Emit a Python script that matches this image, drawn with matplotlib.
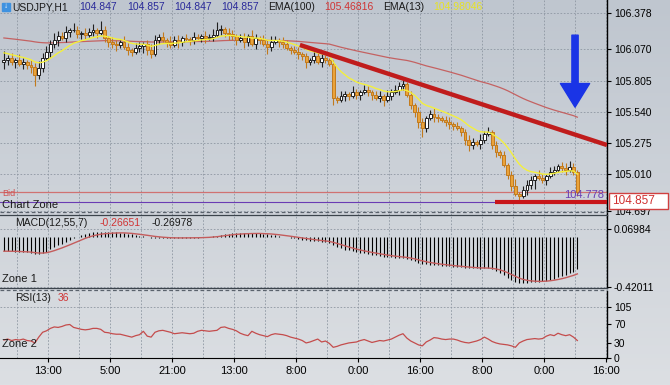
import numpy as np
import matplotlib
matplotlib.use('Agg')
import matplotlib.pyplot as plt
from matplotlib.patches import Rectangle
from matplotlib.lines import Line2D
from matplotlib.colors import LinearSegmentedColormap

plt.rcParams['font.family'] = ['Liberation Sans', 'DejaVu Sans']

# hourly closes, USDJPY H1
first_open = 105.960
close = [
    105.980, 105.996, 105.963, 105.980, 105.946, 105.963, 105.937, 105.920, 105.852, 105.912,
    105.996, 106.047, 106.115, 106.149, 106.183, 106.166, 106.217, 106.234, 106.234, 106.200,
    106.208, 106.191, 106.217, 106.234, 106.208, 106.234, 106.166, 106.132, 106.115, 106.107,
    106.132, 106.090, 106.064, 106.047, 106.081, 106.098, 106.115, 106.064, 106.030, 106.149,
    106.174, 106.149, 106.132, 106.107, 106.149, 106.132, 106.166, 106.158, 106.149, 106.174,
    106.166, 106.183, 106.166, 106.174, 106.191, 106.234, 106.242, 106.208, 106.200, 106.183,
    106.149, 106.166, 106.132, 106.183, 106.115, 106.166, 106.149, 106.115, 106.090, 106.132,
    106.149, 106.132, 106.115, 106.081, 106.064, 106.047, 106.030, 106.013, 105.963, 105.980,
    106.013, 105.963, 105.996, 105.980, 105.946, 105.657, 105.641, 105.674, 105.691, 105.674,
    105.708, 105.683, 105.708, 105.725, 105.708, 105.683, 105.657, 105.674, 105.641, 105.674,
    105.708, 105.725, 105.759, 105.776, 105.683, 105.598, 105.539, 105.454, 105.403, 105.488,
    105.522, 105.496, 105.488, 105.471, 105.454, 105.437, 105.420, 105.403, 105.369, 105.302,
    105.259, 105.285, 105.268, 105.302, 105.352, 105.369, 105.259, 105.200, 105.175, 105.090,
    105.005, 104.912, 104.844, 104.827, 104.878, 104.920, 104.963, 104.997, 104.980, 104.963,
    104.997, 105.031, 105.048, 105.081, 105.064, 105.048, 105.073, 105.031, 104.857,
]
# wick lengths in pips above / below the body
wick_up = [
    8, 3, 4, 2, 5, 3, 2, 4, 3, 6,
    4, 5, 3, 6, 4, 3, 5, 2, 6, 3,
    2, 4, 3, 5, 2, 8, 3, 2, 4, 3,
    2, 5, 3, 2, 4, 3, 2, 3, 5, 4,
    3, 4, 2, 5, 3, 4, 2, 3, 2, 4,
    3, 2, 4, 3, 5, 7, 3, 2, 4, 3,
    2, 3, 4, 2, 5, 3, 2, 4, 3, 5,
    3, 2, 4, 3, 2, 3, 4, 2, 3, 2,
    4, 3, 5, 3, 2, 3, 2, 4, 3, 2,
    5, 3, 2, 4, 3, 2, 3, 4, 2, 5,
    3, 4, 3, 5, 2, 3, 2, 4, 3, 2,
    3, 5, 3, 2, 3, 4, 2, 3, 2, 3,
    4, 3, 2, 5, 3, 4, 2, 3, 2, 3,
    2, 3, 6, 2, 3, 4, 3, 2, 5, 3,
    2, 4, 3, 2, 3, 4, 5, 3, 2,
]
wick_dn = [
    6, 4, 3, 5, 2, 4, 3, 5, 9, 3,
    3, 2, 4, 3, 5, 2, 3, 4, 2, 3,
    4, 3, 2, 3, 4, 2, 3, 4, 3, 5,
    3, 2, 4, 3, 2, 3, 6, 4, 3, 2,
    3, 2, 4, 3, 2, 5, 3, 2, 4, 3,
    2, 3, 4, 2, 3, 2, 4, 3, 5, 3,
    4, 2, 5, 3, 2, 4, 3, 2, 6, 3,
    2, 4, 3, 2, 3, 2, 4, 3, 5, 3,
    3, 2, 4, 3, 2, 6, 3, 2, 4, 3,
    2, 3, 4, 2, 3, 4, 2, 3, 5, 2,
    3, 2, 4, 3, 2, 3, 4, 5, 8, 3,
    2, 4, 3, 2, 3, 4, 3, 2, 3, 4,
    5, 3, 2, 4, 3, 2, 3, 4, 3, 2,
    3, 4, 2, 3, 2, 4, 3, 8, 2, 3,
    4, 2, 3, 2, 3, 4, 2, 3, 3,
]
macd = [
    -0.118, -0.119, -0.118, -0.121, -0.124, -0.127, -0.128, -0.132, -0.144, -0.143,
    -0.135, -0.122, -0.100, -0.084, -0.068, -0.055, -0.040, -0.025, -0.010, 0.005,
    0.020, 0.030, 0.036, 0.040, 0.042, 0.044, 0.042, 0.040, 0.041, 0.040,
    0.039, 0.036, 0.030, 0.025, 0.018, 0.012, 0.008, 0.003, -0.004, -0.006,
    -0.008, -0.009, -0.010, -0.010, -0.008, -0.008, -0.006, -0.005, -0.004, -0.004,
    -0.003, -0.002, 0.000, 0.004, 0.008, 0.014, 0.020, 0.026, 0.030, 0.033,
    0.034, 0.035, 0.034, 0.035, 0.033, 0.034, 0.032, 0.028, 0.024, 0.022,
    0.016, 0.010, 0.005, 0.000, -0.005, -0.010, -0.015, -0.020, -0.026, -0.030,
    -0.032, -0.036, -0.040, -0.044, -0.048, -0.065, -0.080, -0.092, -0.104, -0.112,
    -0.120, -0.126, -0.132, -0.137, -0.142, -0.146, -0.152, -0.158, -0.163, -0.167,
    -0.170, -0.172, -0.174, -0.176, -0.182, -0.192, -0.203, -0.215, -0.226, -0.230,
    -0.232, -0.235, -0.238, -0.241, -0.244, -0.247, -0.250, -0.252, -0.255, -0.258,
    -0.262, -0.263, -0.264, -0.265, -0.262, -0.262, -0.270, -0.283, -0.298, -0.318,
    -0.340, -0.360, -0.378, -0.389, -0.389, -0.386, -0.382, -0.379, -0.377, -0.372,
    -0.366, -0.358, -0.349, -0.339, -0.329, -0.318, -0.304, -0.291, -0.272,
]
rsi = [
    36, 38, 35, 37, 36, 38, 35, 34, 30, 42,
    52, 55, 60, 63, 62, 64, 67, 68, 62, 60,
    58, 57, 58, 60, 60, 58, 52, 51, 49, 48,
    48, 46, 44, 42, 45, 47, 54, 44, 42, 52,
    55, 56, 54, 52, 49, 50, 51, 50, 49, 50,
    54, 56, 55, 54, 55, 56, 62, 63, 60, 58,
    55, 50, 47, 45, 54, 50, 47, 45, 43, 47,
    49, 48, 47, 45, 42, 40, 38, 35, 30, 32,
    35, 38, 32, 34, 29, 21, 23, 26, 28, 30,
    31, 32, 35, 37, 34, 31, 33, 35, 34, 36,
    38, 42, 46, 49, 40, 34, 30, 26, 24, 32,
    36, 41, 40, 38, 37, 38, 38, 36, 33, 31,
    30, 32, 34, 37, 42, 38, 33, 30, 28, 27,
    26, 24, 21, 30, 34, 37, 38, 39, 38, 39,
    44, 47, 45, 50, 47, 45, 47, 42, 35,
]
ema13_seed = 106.05
ema100_seed = 106.17

price_ticks = [106.378, 106.070, 105.805, 105.540, 105.275, 105.010, 104.697]
macd_ticks = [0.06984, -0.42011]
rsi_ticks = [105, 70, 30, 0]
time_labels = ['13:00', '5:00', '21:00', '13:00', '8:00', '0:00', '16:00', '8:00', '0:00', '16:00']

bid = 104.857
low_mark = 104.778
trend_line = [(76.4, 106.107), (155.65, 105.259)]
support_line = [(126.7, 104.775), (155.65, 104.775)]


def ema(values, n, start):
    k = 2.0 / (n + 1)
    out = []
    prev = start
    for v in values:
        prev = prev + k * (v - prev)
        out.append(prev)
    return np.array(out)


W, H = 670, 385
def fx(px):
    return px / W
def fy(py):
    return 1 - py / H

fig = plt.figure(figsize=(6.7, 3.85), dpi=100)

# background gradient
bg = fig.add_axes([0, 0, 1, 1], zorder=-10)
cmap = LinearSegmentedColormap.from_list('bg', ['#bfc6cf', '#dcdfe3'])
bg.imshow(np.linspace(0, 1, 256).reshape(-1, 1), aspect='auto', cmap=cmap, extent=[0, 1, 0, 1])
bg.axis('off')

right = 607
ax = fig.add_axes([0, fy(215), fx(right), 215 / H], facecolor='none')
axm = fig.add_axes([0, fy(288), fx(right), 72 / H], facecolor='none')
axr = fig.add_axes([0, fy(358), fx(right), 67 / H], facecolor='none')

n = len(close)
x = np.arange(n)
closes = np.array(close)
opens = np.concatenate([[first_open], closes[:-1]])
highs = np.maximum(opens, closes) + np.array(wick_up) * 0.01
lows = np.minimum(opens, closes) - np.array(wick_dn) * 0.01
bull = closes >= opens

grid_kw = dict(color='#8e97a2', lw=0.6, ls=(0, (2, 2)))
xmajor = [11.5 + 16 * k for k in range(10)]
xminor = [3.5 + 16 * k for k in range(10)]

for a in (ax, axm, axr):
    a.set_xlim(-1, 155.65)
    for s in ('left', 'top', 'bottom'):
        a.spines[s].set_visible(False)
    a.spines['right'].set_color('black')
    a.spines['right'].set_linewidth(1.0)
    a.yaxis.tick_right()
    a.tick_params(axis='y', direction='out', length=3, labelsize=7.5, pad=2, colors='black')
    a.set_xticks(xmajor)
    a.set_xticks(xminor, minor=True)
    a.grid(True, which='both', axis='x', **grid_kw)
    a.set_axisbelow(True)
    if a is not axr:
        a.tick_params(axis='x', which='both', bottom=False, labelbottom=False)

# main price panel
ax.set_ylim(104.666, 106.488)
ax.set_yticks(price_ticks)
ax.set_yticklabels(['%.3f' % t for t in price_ticks])
ax.grid(True, axis='y', **grid_kw)

ax.plot(x, ema(closes, 100, ema100_seed), color='#c46262', lw=0.9, zorder=2)

wick_col = np.where(bull, '#202020', '#c27a1c')
ax.vlines(x, lows, highs, colors=wick_col, lw=0.8, zorder=3)
body = np.maximum(np.abs(closes - opens), 0.004)
ax.bar(x[bull], body[bull], bottom=np.minimum(opens, closes)[bull], width=0.74,
       color='white', edgecolor='#202020', linewidth=0.7, zorder=4)
ax.bar(x[~bull], body[~bull], bottom=np.minimum(opens, closes)[~bull], width=0.74,
       color='#eaa33a', edgecolor='#c27a1c', linewidth=0.7, zorder=4)

ax.plot(x, ema(closes, 13, ema13_seed), color='#f4f03c', lw=1.0, zorder=5)

ax.axhline(bid, color='#d07272', lw=0.9, zorder=2)
ax.axhline(low_mark, color='#6a3cb4', lw=0.8, zorder=2)
ax.plot(*zip(*trend_line), color='#c01c1c', lw=3.2, solid_capstyle='butt', zorder=6)
ax.plot(*zip(*support_line), color='#c8161a', lw=3.0, solid_capstyle='butt', zorder=6)
ax.text(155.0, 104.795, '%.3f' % low_mark, color='#6a3cb4', fontsize=8, ha='right', va='bottom', zorder=7)

ax.annotate('', xy=(147.4, 105.58), xytext=(147.4, 106.19),
            arrowprops=dict(width=4.5, headwidth=21, headlength=17, color='#1a34e6', shrink=0),
            zorder=8)

# MACD panel
axm.set_ylim(-0.4286, 0.179)
axm.set_yticks(macd_ticks)
axm.set_yticklabels(['%.5f' % t for t in macd_ticks])
axm.grid(True, axis='y', **grid_kw)
macd_arr = np.array(macd)
axm.vlines(x, 0, macd_arr, colors='black', lw=0.8, zorder=3)
axm.plot(x, ema(macd_arr, 7, macd_arr[0]), color='#c45c5c', lw=1.0, zorder=4)

# RSI panel
axr.set_ylim(-1, 137)
axr.set_yticks(rsi_ticks)
axr.axhline(105, **grid_kw)
axr.plot(x, rsi, color='#c44c4c', lw=0.9, zorder=3)
axr.spines['bottom'].set_visible(True)
axr.spines['bottom'].set_color('black')
axr.set_xticklabels(time_labels)
axr.tick_params(axis='x', which='major', direction='out', length=3, labelsize=8, pad=3, colors='black')
axr.tick_params(axis='x', which='minor', length=0)

# panel separators
for yy, ls, col in ((212, (0, (3, 2)), '#5a626c'), (214.5, '-', '#3c444c'),
                    (287.5, '-', '#3c444c'), (290, (0, (3, 2)), '#5a626c')):
    fig.add_artist(Line2D([0, fx(right)], [fy(yy), fy(yy)], color=col, lw=0.9, ls=ls))

# header line
fig.add_artist(Rectangle((fx(2), fy(11)), 8 / W, 8 / H, color='#3f92e0', transform=fig.transFigure))
fig.text(fx(6), fy(7), '\u2193', color='white', fontsize=6, ha='center', va='center', fontweight='bold')
head = [(12, 'USDJPY,H1', '#1a1a1a'), (79, '104.847', '#2a2a9a'), (127, '104.857', '#2a2a9a'),
        (174, '104.847', '#2a2a9a'), (221, '104.857', '#2a2a9a'), (268, 'EMA(100)', '#1a1a1a'),
        (324, '105.46816', '#d03434'), (383, 'EMA(13)', '#1a1a1a'), (433, '104.98046', '#e6e226')]
for px, s, c in head:
    fig.text(fx(px), fy(7), s, color=c, fontsize=7.5, ha='left', va='center')

fig.text(fx(2), fy(194), 'Bid', color='#d05050', fontsize=6.5, ha='left', va='center')
fig.text(fx(2), fy(204.5), 'Chart Zone', color='#1a1a1a', fontsize=8, ha='left', va='center')
fig.text(fx(15), fy(223), 'MACD(12,55,7)', color='#1a1a1a', fontsize=7.5, ha='left', va='center')
fig.text(fx(100), fy(223), '-0.26651', color='#d03434', fontsize=7.5, ha='left', va='center')
fig.text(fx(152), fy(223), '-0.26978', color='#1a1a1a', fontsize=7.5, ha='left', va='center')
fig.text(fx(2), fy(279), 'Zone 1', color='#1a1a1a', fontsize=8, ha='left', va='center')
fig.text(fx(15), fy(298), 'RSI(13)', color='#1a1a1a', fontsize=7.5, ha='left', va='center')
fig.text(fx(58), fy(298), '36', color='#d03434', fontsize=7.5, ha='left', va='center')
fig.text(fx(2), fy(344), 'Zone 2', color='#1a1a1a', fontsize=8, ha='left', va='center')

# bid price box on the axis
fig.add_artist(Rectangle((fx(609), fy(209)), 59 / W, 16 / H, facecolor='white',
                         edgecolor='#d04040', lw=1.0, transform=fig.transFigure, zorder=20))
fig.text(fx(612), fy(201), '%.3f' % bid, color='#d03030', fontsize=8.5, ha='left', va='center', zorder=21)

fig.savefig('out.png', dpi=100)
